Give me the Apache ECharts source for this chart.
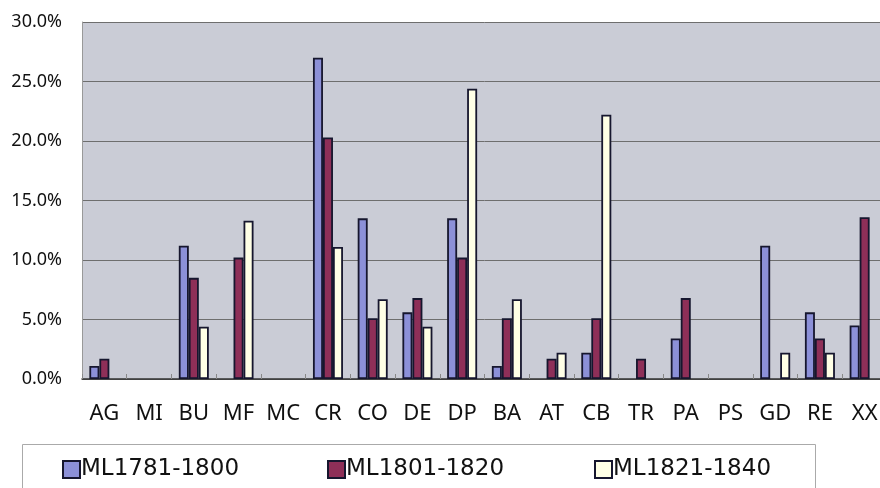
<!DOCTYPE html>
<html>
<head>
<meta charset="utf-8">
<script src="https://cdn.jsdelivr.net/npm/echarts@6/dist/echarts.min.js"></script>
<style>
html,body{margin:0;padding:0;background:#fff;overflow:hidden;}
#c{width:887px;height:488px;}
</style>
</head>
<body>
<div id="c"></div>
<script>
const categories = ['AG','MI','BU','MF','MC','CR','CO','DE','DP','BA','AT','CB','TR','PA','PS','GD','RE','XX'];
const seriesNames = ['ML1781-1800','ML1801-1820','ML1821-1840'];
const ml1781 = [1.1, null, 11.2, null, null, 27.0, 13.5, 5.6, 13.5, 1.1, null, 2.2, null, 3.4, null, 11.2, 5.6, 4.5];
const ml1801 = [1.7, null, 8.5, 10.2, null, 20.3, 5.1, 6.8, 10.2, 5.1, 1.7, 5.1, 1.7, 6.8, null, null, 3.4, 13.6];
const ml1821 = [null, null, 4.4, 13.3, null, 11.1, 6.7, 4.4, 24.4, 6.7, 2.2, 22.2, null, null, null, 2.2, 2.2, null];
const yTicks = [0, 5, 10, 15, 20, 25, 30];

const colors = ['#8c90d8', '#8e2f58', '#ffffe6'];
const seriesData = [ml1781, ml1801, ml1821];
const font = '"Noto Sans", "Liberation Sans", sans-serif';
const legendFont = '"DejaVu Sans", "Noto Sans", sans-serif';
const legendLefts = [62, 327, 594];

const chart = echarts.init(document.getElementById('c'), null, {renderer: 'canvas'});
chart.setOption({
  animation: false,
  backgroundColor: '#ffffff',
  grid: {left: 82, right: 0, top: 22, bottom: 109, show: true, backgroundColor: '#caccd6', borderWidth: 0},
  xAxis: {
    type: 'category',
    data: categories,
    axisLine: {show: true, lineStyle: {color: '#333', width: 1.5}},
    axisTick: {show: true, inside: true, length: 5, lineStyle: {color: '#888'}},
    axisLabel: {color: '#111', fontSize: 22, fontFamily: font, margin: 24, interval: 0}
  },
  yAxis: {
    type: 'value',
    min: yTicks[0],
    max: yTicks[yTicks.length - 1],
    interval: 5,
    axisLine: {show: true, lineStyle: {color: '#999', width: 1}},
    axisTick: {show: false},
    splitLine: {show: true, lineStyle: {color: '#6e6e6e', width: 1}},
    axisLabel: {color: '#111', fontSize: 18, fontFamily: font, margin: 20,
      formatter: v => v.toFixed(1) + '%'}
  },
  legend: seriesNames.map((n, i) => ({
    left: legendLefts[i], top: 458,
    padding: 0,
    itemWidth: 17, itemHeight: 17,
    icon: 'rect',
    data: [n],
    textStyle: {color: '#111', fontSize: 23, fontFamily: legendFont, padding: [0, 0, 0, -4]}
  })),
  graphic: [{
    type: 'rect', left: 22, top: 444, z: -1,
    shape: {width: 793, height: 80},
    style: {fill: '#fff', stroke: '#aaa', lineWidth: 1}
  }],
  series: seriesNames.map((n, i) => ({
    name: n,
    type: 'bar',
    data: seriesData[i],
    barWidth: 10,
    barGap: '0%',
    itemStyle: {color: colors[i], borderColor: '#16162e', borderWidth: 1.8}
  }))
});
</script>
</body>
</html>
